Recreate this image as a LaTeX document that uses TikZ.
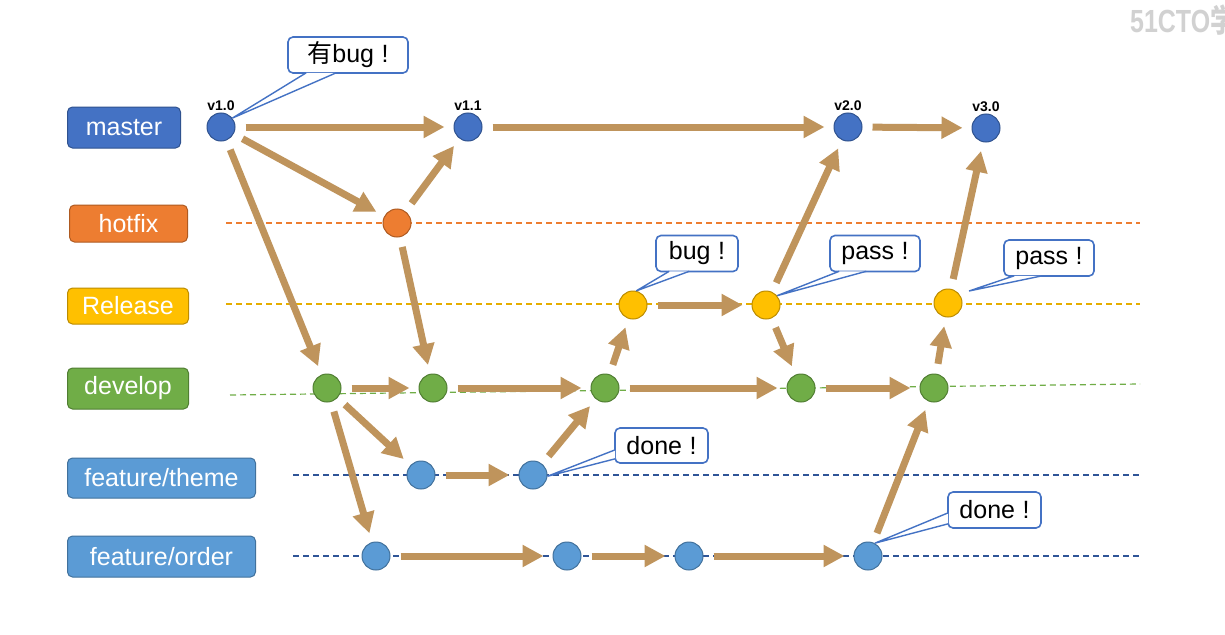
\documentclass[tikz,border=0pt]{standalone}
\usepackage{fontspec}
\setmainfont{Liberation Sans}
\newfontfamily\cjk{Noto Sans CJK SC}
\usetikzlibrary{arrows.meta,calc}

\definecolor{masterblue}{HTML}{4472C4}
\definecolor{masteredge}{HTML}{2F528F}
\definecolor{hotfixorange}{HTML}{ED7D31}
\definecolor{hotfixedge}{HTML}{AE5A21}
\definecolor{releaseyellow}{HTML}{FFC000}
\definecolor{releaseedge}{HTML}{BC8C00}
\definecolor{developgreen}{HTML}{70AD47}
\definecolor{developedge}{HTML}{507E32}
\definecolor{featureblue}{HTML}{5B9BD5}
\definecolor{featureedge}{HTML}{41719C}
\definecolor{laneblue}{HTML}{2F5597}
\definecolor{flowbrown}{RGB}{191,148,92}

\begin{document}
\begin{tikzpicture}[x=1pt, y=-1pt,
    branch/.style={rounded corners=5pt, line width=1pt, text=white, anchor=west,
      font=\fontsize{25}{28}\selectfont, inner sep=0pt},
    commit/.style={circle, minimum size=28pt, inner sep=0pt, line width=1pt},
    version/.style={font=\bfseries\fontsize{14}{16}\selectfont, inner sep=1.5pt},
    flow/.style={draw=flowbrown, line width=7pt, -{Triangle[width=21pt,length=21pt]},
      shorten <=10pt, shorten >=9pt},
    lane/.style={dash pattern=on 6pt off 4pt, line width=1.2pt},
    note/.style={draw=masterblue, fill=white, rounded corners=5pt, line width=1.6pt,
      font=\fontsize{25}{28}\selectfont, inner sep=0pt, minimum height=36pt},
    pointer/.style={draw=masterblue, fill=white, line width=1.4pt, line join=miter}]

    \useasboundingbox[fill=white] (0,0) rectangle (1225,634);

    % Lanes
    \coordinate (hs) at (226,223);   \coordinate (he) at (1140,223);
    \coordinate (rs) at (226,304);   \coordinate (re) at (1140,304);
    \coordinate (ds) at (230,395);   \coordinate (de) at (1140,384);
    \coordinate (ts) at (293,475);   \coordinate (te) at (1140,475);
    \coordinate (os) at (293,556);   \coordinate (oe) at (1140,556);
    \draw[lane, hotfixorange] (hs) -- (he);
    \draw[lane, releaseyellow!90!black] (rs) -- (re);
    \draw[lane, developgreen] (ds) -- (de);
    \draw[lane, laneblue] (ts) -- (te);
    \draw[lane, laneblue] (os) -- (oe);

    % Branch names
    \node[branch, fill=masterblue, draw=masteredge, minimum width=113pt, minimum height=41pt] (master) at (67,127.5) {master};
    \node[branch, fill=hotfixorange, draw=hotfixedge, minimum width=118pt, minimum height=37pt] (hotfix) at (69,223.5) {hotfix};
    \node[branch, fill=releaseyellow, draw=releaseedge, minimum width=121pt, minimum height=36pt] (release) at (67,306) {Release};
    \node[branch, fill=developgreen, draw=developedge, minimum width=121pt, minimum height=41pt] (develop) at (67,388.5) {develop};
    \node[branch, fill=featureblue, draw=featureedge, minimum width=188pt, minimum height=40pt] (theme) at (67,478) {feature/theme};
    \node[branch, fill=featureblue, draw=featureedge, minimum width=188pt, minimum height=41pt] (order) at (67,556.5) {feature/order};

    % Commits
    \node[commit, fill=masterblue, draw=masteredge, label={[version]above:v1.0}] (v10) at (221,127) {};
    \node[commit, fill=masterblue, draw=masteredge, label={[version]above:v1.1}] (v11) at (468,127) {};
    \node[commit, fill=masterblue, draw=masteredge, label={[version]above:v2.0}] (v20) at (848,127) {};
    \node[commit, fill=masterblue, draw=masteredge, label={[version]above:v3.0}] (v30) at (986,128) {};
    \node[commit, fill=hotfixorange, draw=hotfixedge] (h1) at (397,223) {};
    \node[commit, fill=releaseyellow, draw=releaseedge] (r1) at (633,305) {};
    \node[commit, fill=releaseyellow, draw=releaseedge] (r2) at (766,305) {};
    \node[commit, fill=releaseyellow, draw=releaseedge] (r3) at (948,303) {};
    \node[commit, fill=developgreen, draw=developedge] (d1) at (327,388) {};
    \node[commit, fill=developgreen, draw=developedge] (d2) at (433,388) {};
    \node[commit, fill=developgreen, draw=developedge] (d3) at (605,388) {};
    \node[commit, fill=developgreen, draw=developedge] (d4) at (801,388) {};
    \node[commit, fill=developgreen, draw=developedge] (d5) at (934,388) {};
    \node[commit, fill=featureblue, draw=featureedge] (t1) at (421,475) {};
    \node[commit, fill=featureblue, draw=featureedge] (t2) at (533,475) {};
    \node[commit, fill=featureblue, draw=featureedge] (o1) at (376,556) {};
    \node[commit, fill=featureblue, draw=featureedge] (o2) at (567,556) {};
    \node[commit, fill=featureblue, draw=featureedge] (o3) at (689,556) {};
    \node[commit, fill=featureblue, draw=featureedge] (o4) at (868,556) {};

    % Merges
    \draw[flow] (v10) -- (v11);
    \draw[flow] (v10) -- (h1);
    \draw[flow] (v10) -- (d1);
    \draw[flow] (h1) -- (v11);
    \draw[flow] (h1) -- (d2);
    \draw[flow] (v11) -- (v20);
    \draw[flow] (v20) -- (v30);
    \draw[flow] (d1) -- (d2);
    \draw[flow] (d2) -- (d3);
    \draw[flow] (d3) -- (r1);
    \draw[flow] (r1) -- (r2);
    \draw[flow] (r2) -- (v20);
    \draw[flow] (r2) -- (d4);
    \draw[flow] (d3) -- (d4);
    \draw[flow] (d4) -- (d5);
    \draw[flow] (d5) -- (r3);
    \draw[flow] (r3) -- (v30);
    \draw[flow] (d1) -- (t1);
    \draw[flow] (d1) -- (o1);
    \draw[flow] (t1) -- (t2);
    \draw[flow] (t2) -- (d3);
    \draw[flow] (o1) -- (o2);
    \draw[flow] (o2) -- (o3);
    \draw[flow] (o3) -- (o4);
    \draw[flow] (o4) -- (d5);

    % Notes
    \node[note, minimum width=120pt] (n1) at (348,55) {{\cjk 有}bug\hspace{0.3em}!};
    \node[note, minimum width=82pt] (n2) at (697,253.5) {bug\hspace{0.3em}!};
    \node[note, minimum width=90pt] (n3) at (875,253.5) {pass\hspace{0.3em}!};
    \node[note, minimum width=90pt] (n4) at (1049,258) {pass\hspace{0.3em}!};
    \node[note, minimum width=93pt, minimum height=35pt] (n5) at (661.5,445.5) {done\hspace{0.3em}!};
    \node[note, minimum width=93pt] (n6) at (994.5,510) {done\hspace{0.3em}!};
    \path[pointer] ($(n1.south west)+(19,-1)$) -- (v10.38) -- ($(n1.south west)+(49,-1)$);
    \path[pointer] ($(n2.south west)+(14,-1)$) -- (r1.77) -- ($(n2.south west)+(34,-1)$);
    \path[pointer] ($(n3.south west)+(10,-1)$) -- (r2.40) -- ($(n3.south west)+(37,-1)$);
    \path[pointer] ($(n4.south west)+(11,-1)$) -- ($(r3)+(21,-12)$) -- ($(n4.south west)+(39,-1)$);
    \path[pointer] ($(n5.south west)+(1,-14)$) -- (t2.-5) -- ($(n5.south west)+(1,-5)$);
    \path[pointer] ($(n6.south west)+(1,-16)$) -- (o4.62) -- ($(n6.south west)+(1,-5)$);

    % Watermark
    \node[text=black!18, font=\bfseries\fontsize{32}{34}\selectfont, anchor=west, xscale=0.78, inner sep=0pt] (mark) at (1130,20) {51CTO{\cjk 学}};
\end{tikzpicture}
\end{document}
